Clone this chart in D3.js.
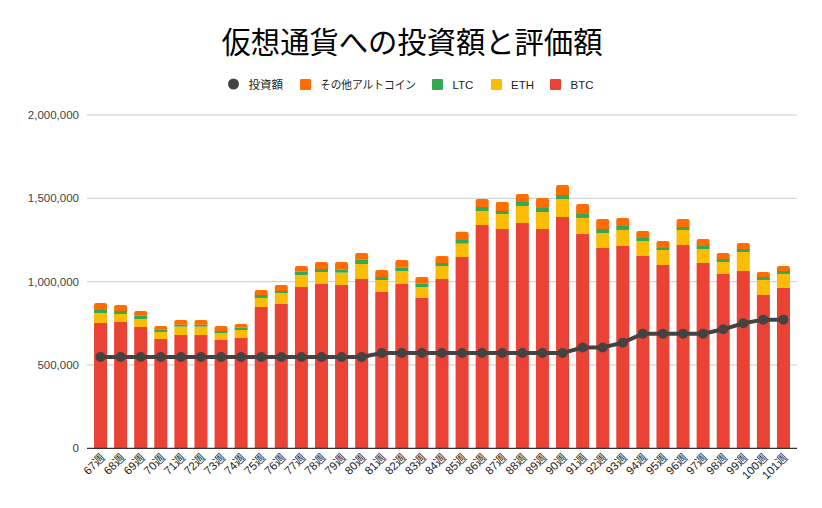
<!DOCTYPE html>
<html><head><meta charset="utf-8">
<script src="https://cdn.jsdelivr.net/npm/d3@7/dist/d3.min.js"></script>
<style>body{margin:0;background:#fff;}svg{display:block;font-family:"Liberation Sans",Arial,"Noto Sans CJK JP",sans-serif;}</style>
</head><body>
<svg id="c" width="822" height="508"></svg>
<script>
const weeks = ["67週","68週","69週","70週","71週","72週","73週","74週","75週","76週","77週","78週","79週","80週","81週","82週","83週","84週","85週","86週","87週","88週","89週","90週","91週","92週","93週","94週","95週","96週","97週","98週","99週","100週","101週"];
const btc   = [752000,758000,728000,656000,680000,680000,650000,662000,848000,866000,968000,986000,980000,1016000,938000,986000,902000,1016000,1148000,1340000,1316000,1352000,1316000,1388000,1286000,1202000,1214000,1154000,1100000,1220000,1112000,1046000,1064000,920000,962000];
const eth   = [60000,48000,48000,42000,50000,50000,42000,48000,54000,66000,72000,72000,74000,90000,72000,78000,66000,78000,80000,84000,90000,102000,102000,108000,96000,90000,96000,90000,90000,90000,84000,72000,114000,90000,84000];
const ltc   = [18000,18000,20000,14000,12000,12000,12000,14000,18000,12000,20000,18000,18000,26000,18000,20000,20000,18000,22000,24000,18000,24000,24000,24000,24000,24000,24000,18000,12000,18000,18000,18000,18000,18000,18000];
const other = [42000,36000,28000,22000,28000,28000,30000,22000,30000,36000,34000,42000,46000,40000,42000,46000,40000,42000,50000,48000,54000,48000,60000,60000,60000,60000,48000,42000,42000,48000,42000,36000,36000,30000,30000];
const invest= [548000,548000,548000,548000,548000,548000,548000,548000,548000,548000,548000,548000,548000,548000,572000,572000,572000,572000,572000,572000,572000,572000,572000,572000,605000,605000,634000,688000,688000,688000,688000,714000,750000,772000,772000];
const yTicks = [0,500000,1000000,1500000,2000000];
const seriesNames = ["BTC","ETH","LTC","その他アルトコイン"];
const colors = {"BTC":"#ea4335","ETH":"#fbbc04","LTC":"#34a853","その他アルトコイン":"#ff6d01"};
const lineColor = "#434343";

const svg = d3.select("#c");
const x = d3.scaleBand().domain(weeks).range([90.5, 793.5]).paddingInner(0.353).paddingOuter(0.176);
const y = d3.scaleLinear().domain([0, 2000000]).range([448.3, 115]);

// title
svg.append("text").attr("x", 412).attr("y", 53).attr("text-anchor","middle")
  .attr("font-size", 29.3).attr("fill","#000").attr("font-family","'Noto Sans CJK JP',sans-serif")
  .text("仮想通貨への投資額と評価額");

// gridlines
svg.append("g").selectAll("line").data(yTicks.slice(1)).join("line")
  .attr("x1", 87).attr("x2", 797).attr("y1", d=>y(d)).attr("y2", d=>y(d))
  .attr("stroke","#cccccc").attr("stroke-width",1);

// y labels
svg.append("g").selectAll("text").data(yTicks).join("text")
  .attr("x", 79).attr("y", d=>y(d)+4).attr("text-anchor","end")
  .attr("font-size", 11.5).attr("fill","#444")
  .text(d=>d3.format(",")(d));

// stacked bars
const rows = weeks.map((w,i)=>({week:w, "BTC":btc[i], "ETH":eth[i], "LTC":ltc[i], "その他アルトコイン":other[i]}));
const stack = d3.stack().keys(seriesNames)(rows);
const bw = x.bandwidth();
const r = 2;
stack.forEach((layer, li) => {
  const g = svg.append("g").attr("fill", colors[layer.key]);
  layer.forEach((d, i) => {
    const x0 = x(weeks[i]), y0 = y(d[0]), y1 = y(d[1]);
    if (li === seriesNames.length - 1) {
      g.append("path").attr("d",
        `M${x0},${y0}V${y1+r}Q${x0},${y1} ${x0+r},${y1}H${x0+bw-r}Q${x0+bw},${y1} ${x0+bw},${y1+r}V${y0}Z`);
    } else {
      g.append("rect").attr("x", x0).attr("y", y1).attr("width", bw).attr("height", Math.max(0, y0 - y1));
    }
  });
});

// baseline
svg.append("line").attr("x1", 87).attr("x2", 797).attr("y1", y(0)).attr("y2", y(0))
  .attr("stroke","#333").attr("stroke-width",1.3);

// investment line
const cx = w => x(w) + bw/2;
svg.append("path").datum(invest)
  .attr("d", d3.line().x((d,i)=>cx(weeks[i])).y(d=>y(d)))
  .attr("fill","none").attr("stroke", lineColor).attr("stroke-width", 4);
svg.append("g").selectAll("circle").data(invest).join("circle")
  .attr("cx",(d,i)=>cx(weeks[i])).attr("cy", d=>y(d)).attr("r", 5).attr("fill", lineColor);

// x labels
svg.append("g").selectAll("text").data(weeks).join("text")
  .attr("transform", w=>`translate(${cx(w)+5},${y(0)+10}) rotate(-45)`)
  .attr("text-anchor","end").attr("font-size", 11.5).attr("fill","#222")
  .text(w=>w);

// legend
const leg = svg.append("g").attr("font-size", 11.5).attr("fill","#222");
leg.append("circle").attr("cx", 233.5).attr("cy", 84).attr("r", 5.5).attr("fill", lineColor);
leg.append("text").attr("x", 248.5).attr("y", 88.5).text("投資額");
const items = [["その他アルトコイン",300,320,96],["LTC",432,452.5,0],["ETH",491,511,0],["BTC",550,570.5,0]];
items.forEach(([k,sx,tx,tl])=>{
  leg.append("rect").attr("x", sx).attr("y", 79).attr("width", 11).attr("height", 11).attr("rx",1).attr("fill", colors[k]);
  const t = leg.append("text").attr("x", tx).attr("y", 88.5).text(k);
  if (tl) t.attr("textLength", tl).attr("lengthAdjust","spacingAndGlyphs");
});
</script>
</body></html>
